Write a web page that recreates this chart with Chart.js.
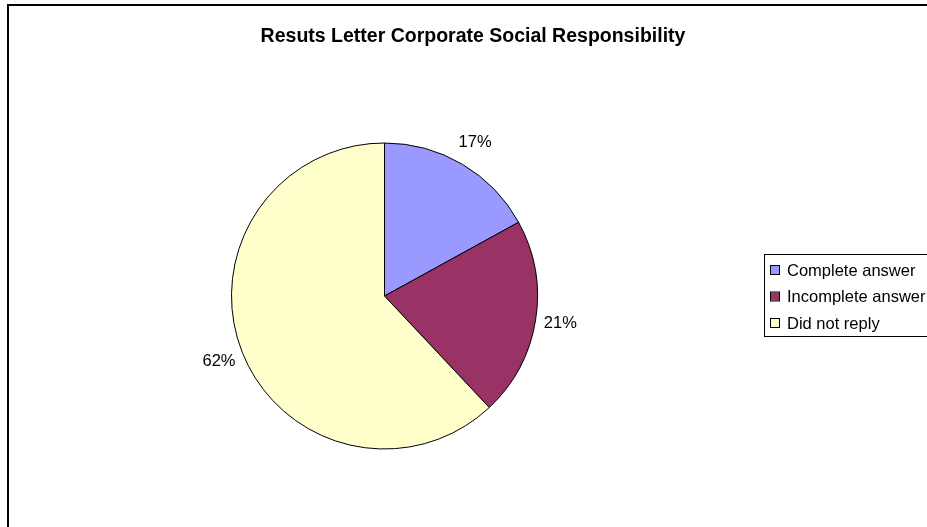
<!DOCTYPE html>
<html>
<head>
<meta charset="utf-8">
<script src="https://cdn.jsdelivr.net/npm/chart.js@4.4.1/dist/chart.umd.min.js"></script>
<style>
  html, body { margin: 0; padding: 0; background: #fff; }
  canvas { display: block; }
</style>
</head>
<body>
<canvas id="myChart" width="927" height="527"></canvas>
<script>
// data
const chartTitle = 'Resuts Letter Corporate Social Responsibility';
const categories = ['Complete answer', 'Incomplete answer', 'Did not reply'];
const shares = [17, 21, 62];
const sliceColors = ['#9999FF', '#993366', '#FFFFCC'];

const FONT = '"Liberation Sans", Arial, sans-serif';

/* frame, title, percent labels and the legend box (clipped at the right like the original) */
const excelLook = {
	id: 'excelLook',
	afterDraw(chart) {
		const ctx = chart.ctx;
		ctx.save();

		// outer frame, only left and top edges are in view
		ctx.strokeStyle = '#000';
		ctx.lineWidth = 2;
		ctx.strokeRect(8, 5, 2000, 2000);

		// title
		ctx.fillStyle = '#000';
		ctx.font = 'bold 19.5px ' + FONT;
		ctx.textAlign = 'center';
		ctx.textBaseline = 'alphabetic';
		ctx.fillText(chartTitle, 473, 42);

		// percent labels outside the slices
		const meta = chart.getDatasetMeta(0);
		const values = chart.data.datasets[0].data;
		const total = values.reduce((a, b) => a + b, 0);
		ctx.font = '16.5px ' + FONT;
		ctx.textBaseline = 'middle';
		meta.data.forEach((arc, i) => {
			const mid = (arc.startAngle + arc.endAngle) / 2;
			const dist = arc.outerRadius + 25;
			const x = arc.x + Math.cos(mid) * dist;
			const y = arc.y + Math.sin(mid) * dist;
			ctx.fillText(Math.round(values[i] / total * 100) + '%', x, y);
		});

		// legend
		const boxLeft = 764.5, boxTop = 254.5, rowH = 26.5, firstRow = 270;
		ctx.lineWidth = 1;
		ctx.strokeStyle = '#000';
		ctx.strokeRect(boxLeft, boxTop, 400, 82);
		ctx.textAlign = 'left';
		chart.data.labels.forEach((lab, i) => {
			const cy = firstRow + i * rowH;
			ctx.fillStyle = chart.data.datasets[0].backgroundColor[i];
			ctx.fillRect(771, cy - 4, 8, 8);
			ctx.strokeStyle = '#000';
			ctx.strokeRect(770.5, cy - 4.5, 9, 9);
			ctx.fillStyle = '#000';
			ctx.fillText(lab, 787, cy + 1);
		});

		ctx.restore();
	}
};

const config = {
	type: 'pie',
	data: {
		labels: categories,
		datasets: [{
			data: shares,
			backgroundColor: sliceColors,
			borderColor: '#000',
			borderWidth: 1,
		}],
	},
	options: {
		responsive: false,
		animation: false,
		layout: {
			padding: { left: 231, right: 389, top: 142.5, bottom: 77.5 },
		},
		plugins: {
			legend: false,
			title: { display: false },
			tooltip: { enabled: false },
		},
	},
	plugins: [excelLook],
};

const context = document.getElementById('myChart').getContext('2d');
const chart = new Chart(context, config);
</script>
</body>
</html>
